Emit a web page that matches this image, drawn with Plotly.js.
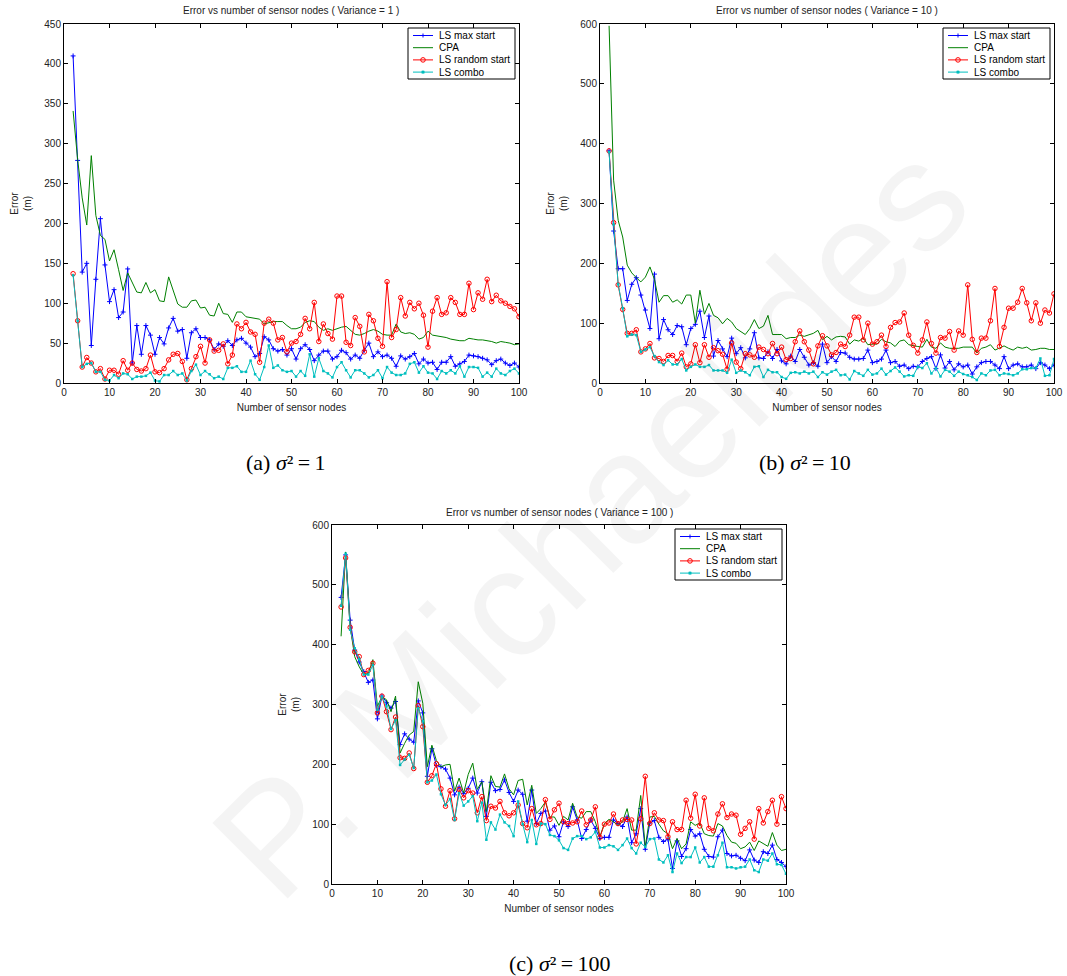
<!DOCTYPE html>
<html><head><meta charset="utf-8">
<script src="https://cdn.plot.ly/plotly-3.0.1.min.js"></script>
<style>html,body{margin:0;padding:0;background:#fff}</style>
</head><body>
<div id="chart" style="width:1067px;height:976px"></div>
<script>
// Number of sensor nodes
const nodes = [2,3,4,5,6,7,8,9,10,11,12,13,14,15,16,17,18,19,20,21,22,23,24,25,26,27,28,29,30,31,32,33,34,35,36,37,38,39,40,41,42,43,44,45,46,47,48,49,50,51,52,53,54,55,56,57,58,59,60,61,62,63,64,65,66,67,68,69,70,71,72,73,74,75,76,77,78,79,80,81,82,83,84,85,86,87,88,89,90,91,92,93,94,95,96,97,98,99,100];
const seriesNames = ['LS max start','CPA','LS random start','LS combo'];
const variances = [1, 10, 100];
const yMax = [450, 600, 600];

// (a) variance = 1
const aLsMax = [410,279,139,150,47,130,206,148,102,117, 82,89,143,25,72,36,72,60,36,57, 49,69,81,65,67,31,63,68,57,57, 54,42,49,46,53,47,54,56,50,45, 33,37,58,54,43,40,42,35,43,30, 43,48,42,28,35,40,40,30,33,41, 38,30,35,31,41,50,33,39,33,35, 31,21,34,30,33,37,24,30,25,26, 17,26,26,33,21,24,27,35,34,33, 31,29,23,28,30,25,22,25,20];
const aCpa = [341,280,232,198,285,210,185,180,153,167, 142,116,138,127,114,113,126,113,117,103, 102,133,115,99,95,95,103,104,94,95, 85,84,100,87,86,76,89,89,83,82, 81,80,74,76,77,77,77,72,68,68, 70,76,78,77,70,66,68,66,68,70, 71,66,61,60,62,65,67,65,61,60, 60,74,64,62,63,61,55,57,65,60, 59,58,57,55,54,53,53,56,55,54, 54,53,52,50,52,51,50,48,49];
const aLsRand = [137,78,20,32,25,14,18,5,16,16, 11,28,16,25,17,15,18,35,14,13, 18,29,36,37,27,4,18,33,46,25, 54,40,41,49,24,35,74,68,76,64, 61,26,75,80,75,54,57,39,50,52, 61,81,68,101,52,74,62,55,109,109, 51,47,82,71,39,86,78,56,46,127, 57,67,107,84,101,93,100,85,45,90, 107,86,88,107,101,86,86,125,92,113, 105,130,102,110,103,100,96,93,83];
const aLsCombo = [135,78,20,24,25,14,14,4,3,10, 6,12,11,5,8,8,9,13,3,2, 10,10,15,10,12,3,15,23,10,15, 11,6,8,5,19,19,21,14,14,28, 11,4,20,47,19,22,16,14,15,8, 15,9,36,8,31,15,12,7,20,26, 16,7,16,16,12,7,10,16,6,20, 13,10,10,12,24,26,13,21,13,12, 5,15,12,16,12,21,8,20,20,19, 8,13,8,18,12,10,15,18,12];

// (b) variance = 10
const bLsMax = [388,254,191,191,138,165,176,147,122,91, 182,74,106,89,81,96,94,64,91,98, 120,76,112,45,71,57,44,75,49,59, 42,57,84,42,41,52,41,56,37,32, 45,36,56,43,30,34,28,65,34,44, 36,51,50,43,40,40,41,55,34,36, 40,55,34,36,28,30,24,28,27,36, 41,44,24,47,25,36,22,32,27,30, 15,27,34,36,36,30,24,44,24,30, 32,27,27,30,24,34,30,24,30];
const bCpa = [597,339,272,244,197,184,176,169,177,194, 173,135,146,146,135,139,132,147,147,100, 155,115,133,113,109,99,108,102,91,86, 81,91,106,91,95,113,81,81,81,74, 76,76,80,78,80,83,88,72,78,72, 77,78,77,65,72,70,75,64,65,65, 73,69,67,61,70,72,64,62,61,60, 73,60,58,67,60,58,58,58,60,60, 60,50,58,60,64,55,58,62,58,55, 60,58,60,55,56,58,58,56,56];
const bLsRand = [388,268,164,123,83,83,89,52,57,66, 42,41,36,46,46,36,50,27,32,64, 34,64,43,59,54,48,23,67,35,24, 49,47,43,60,56,49,66,49,60,39, 41,69,87,69,55,32,62,79,62,47, 51,65,61,80,110,110,72,100,65,69, 80,61,93,101,102,117,80,63,50,72, 102,66,50,76,75,86,55,87,80,164, 73,51,75,75,104,158,61,93,125,125, 135,158,134,104,134,100,122,117,149];
const bLsCombo = [386,265,165,125,78,81,80,52,56,60, 45,35,30,38,31,31,40,21,27,31, 27,27,30,21,21,21,17,39,17,21, 18,13,27,28,10,22,18,18,10,7, 17,18,16,19,16,19,10,18,14,19, 22,13,14,6,20,16,12,22,14,16, 24,14,20,26,19,11,13,12,27,25, 33,16,25,11,22,19,12,19,15,13, 10,5,16,13,21,22,13,16,15,13, 16,23,23,25,25,41,12,13,40];

// (c) variance = 100
const cLsMax = [479,550,441,391,371,355,337,341,276,314, 303,294,305,233,251,242,237,306,286,180, 226,198,196,192,177,149,162,151,160,177, 152,171,113,170,156,158,174,153,138,157, 150,105,157,101,118,122,90,97,79,104, 96,129,107,76,91,107,93,76,78,78, 107,101,96,112,69,84,126,58,102,106, 78,71,75,26,72,46,59,91,80,84, 58,46,45,79,90,51,47,48,43,39, 57,40,36,54,51,65,41,36,29];
const cCpa = [414,555,430,380,363,350,352,375,297,313, 308,288,314,219,235,249,255,338,302,196, 232,206,196,199,200,155,177,152,183,202, 158,171,121,181,163,162,184,159,149,173, 175,132,165,118,126,137,112,112,98,113, 107,135,112,110,121,121,104,79,101,108, 104,98,104,126,90,90,148,62,112,113, 100,89,84,59,76,59,67,104,98,102, 84,81,80,101,97,81,70,68,59,62, 70,56,72,67,63,86,65,56,58];
const cLsRand = [463,545,429,388,380,350,357,369,286,314, 288,258,279,211,210,219,193,298,263,170, 181,201,159,130,156,109,158,144,156,152, 119,146,106,130,127,138,119,114,119,132, 101,94,126,99,101,141,108,124,135,104, 101,102,104,122,99,107,129,78,100,102, 117,101,107,108,107,67,109,180,101,119, 107,106,79,104,91,91,140,110,150,97, 144,93,89,117,134,111,117,115,83,93, 104,75,126,102,121,140,100,146,126];
const cLsCombo = [465,552,425,394,376,350,350,366,291,313, 297,259,274,199,208,216,194,294,272,170, 173,183,150,132,142,107,152,131,138,147, 105,136,74,103,91,116,103,97,80,138, 100,70,107,67,101,100,82,80,73,60, 57,76,80,80,75,78,87,61,61,65, 63,57,65,76,60,51,69,62,75,76, 41,36,48,20,51,35,45,45,61,36, 45,29,29,48,69,28,28,26,28,29, 41,23,20,41,39,51,33,32,17];

const panels = [
  [aLsMax, aCpa, aLsRand, aLsCombo],
  [bLsMax, bCpa, bLsRand, bLsCombo],
  [cLsMax, cCpa, cLsRand, cLsCombo]
];

const colors = ['#0000ff', '#008000', '#ff0000', '#00bfbf'];
const styles = [
  {mode:'lines+markers', line:{color:colors[0], width:1}, marker:{symbol:'cross-thin', size:3.5, color:colors[0], line:{color:colors[0], width:1}}},
  {mode:'lines', line:{color:colors[1], width:1}},
  {mode:'lines+markers', line:{color:colors[2], width:1}, marker:{symbol:'circle-open', size:4.5, color:colors[2], line:{color:colors[2], width:1}}},
  {mode:'lines+markers', line:{color:colors[3], width:1}, marker:{symbol:'square', size:2.5, color:colors[3]}}
];

const axSuffix = ['', '2', '3'];
const traces = [];
panels.forEach((series, p) => {
  series.forEach((vals, s) => {
    traces.push(Object.assign({
      type:'scatter', x: nodes, y: vals, name: seriesNames[s],
      xaxis: 'x' + axSuffix[p], yaxis: 'y' + axSuffix[p],
      showlegend:false, hoverinfo:'x+y+name'
    }, JSON.parse(JSON.stringify(styles[s]))));
  });
});

const W = 1067, H = 976;
// pixel boxes of the three plot areas [left, right, top, bottom]
const boxes = [[64, 519, 24, 383], [600, 1054, 24, 383], [332, 786, 525, 884]];
const px = v => v / W, py = v => 1 - v / H;

function xAxis(b, anchor) {
  return {domain:[px(b[0]), px(b[1])], anchor: anchor, range:[0,100], tickmode:'linear', tick0:0, dtick:10,
    ticks:'inside', ticklen:4, tickcolor:'#000', showline:true, linecolor:'#000', linewidth:1, mirror:'ticks',
    showgrid:false, zeroline:false, tickfont:{size:10, color:'#222'},
    title:{text:'Number of sensor nodes', font:{size:10, color:'#222'}, standoff:6}};
}
function yAxis(b, anchor, ymax) {
  return {domain:[py(b[3]), py(b[2])], anchor: anchor, range:[0, ymax], tickmode:'linear', tick0:0, dtick:ymax===450?50:100,
    ticks:'inside', ticklen:4, tickcolor:'#000', showline:true, linecolor:'#000', linewidth:1, mirror:'ticks',
    showgrid:false, zeroline:false, tickfont:{size:10, color:'#222'},
    title:{text:'Error<br>(m)', font:{size:10, color:'#222'}, standoff:10}};
}

const annotations = [];
const shapes = [];
const captionLabels = ['(a)', '(b)', '(c)'];
const captionX = [286, 805, 560];
const captionY = [462, 462, 963];
boxes.forEach((b, p) => {
  annotations.push({xref:'paper', yref:'paper', x:px((b[0]+b[1])/2), y:py(b[2]-13), xanchor:'center', yanchor:'middle',
    text:'Error vs number of sensor nodes ( Variance = ' + variances[p] + ' )', showarrow:false, font:{size:10, color:'#222'}});
  annotations.push({xref:'paper', yref:'paper', x:px(captionX[p]), y:py(captionY[p]), xanchor:'center', yanchor:'middle',
    text: captionLabels[p] + ' <i>σ</i>²\u2009=\u2009' + variances[p], showarrow:false,
    font:{family:'Liberation Serif, DejaVu Serif, serif', size:22, color:'#000'}});

  // legend box (inside the top-right corner of each panel)
  const R = b[1] - 4, L = R - 107, T = b[2] + 4, B = T + 51;
  shapes.push({type:'rect', xref:'paper', yref:'paper', x0:px(L), x1:px(R), y0:py(B), y1:py(T),
    line:{color:'#000', width:1}, fillcolor:'#fff', layer:'above'});
  seriesNames.forEach((name, s) => {
    const yy = T + 7.5 + s * 12.2;
    const c = colors[s];
    shapes.push({type:'line', xref:'paper', yref:'paper', x0:px(L+5), x1:px(L+25), y0:py(yy), y1:py(yy),
      line:{color:c, width:1}, layer:'above'});
    const cx = L + 15;
    if (s === 0) {
      shapes.push({type:'line', xref:'paper', yref:'paper', x0:px(cx), x1:px(cx), y0:py(yy-2), y1:py(yy+2), line:{color:c, width:1}, layer:'above'});
    } else if (s === 2) {
      shapes.push({type:'circle', xref:'paper', yref:'paper', x0:px(cx-2.3), x1:px(cx+2.3), y0:py(yy+2.3), y1:py(yy-2.3), line:{color:c, width:1}, layer:'above'});
    } else if (s === 3) {
      shapes.push({type:'rect', xref:'paper', yref:'paper', x0:px(cx-1.2), x1:px(cx+1.2), y0:py(yy+1.2), y1:py(yy-1.2), line:{color:c, width:0.5}, fillcolor:c, layer:'above'});
    }
    annotations.push({xref:'paper', yref:'paper', x:px(L+29), y:py(yy), xanchor:'left', yanchor:'middle',
      text:name, showarrow:false, font:{size:10, color:'#000'}});
  });
});
// faint watermark
annotations.push({xref:'paper', yref:'paper', x:px(590), y:py(520), xanchor:'center', yanchor:'middle', textangle:-45,
  text:'P. Michaelides', showarrow:false, font:{family:'Liberation Sans, Arial, sans-serif', size:155, color:'rgba(0,0,0,0.045)'}});

const layout = {
  width:W, height:H, margin:{l:0, r:0, t:0, b:0}, paper_bgcolor:'#fff', plot_bgcolor:'#fff',
  font:{family:'Liberation Sans, Arial, Helvetica, sans-serif', size:10, color:'#222'},
  xaxis: xAxis(boxes[0], 'y'), yaxis: yAxis(boxes[0], 'x', yMax[0]),
  xaxis2: xAxis(boxes[1], 'y2'), yaxis2: yAxis(boxes[1], 'x2', yMax[1]),
  xaxis3: xAxis(boxes[2], 'y3'), yaxis3: yAxis(boxes[2], 'x3', yMax[2]),
  annotations: annotations, shapes: shapes, showlegend:false
};

Plotly.newPlot('chart', traces, layout, {displayModeBar:false, staticPlot:true});
</script>
</body></html>
